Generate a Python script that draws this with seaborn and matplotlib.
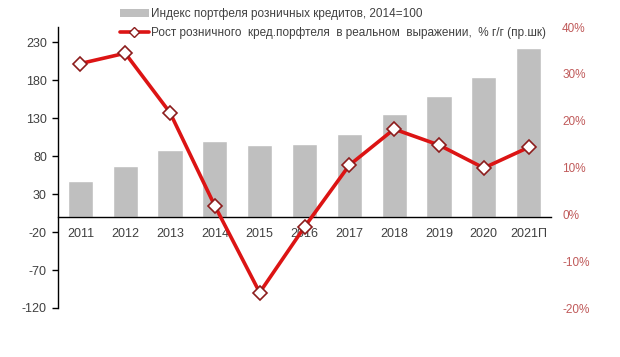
import numpy as np
import pandas as pd
import matplotlib
matplotlib.use("Agg")
import matplotlib.pyplot as plt
from matplotlib.patches import Patch
from matplotlib.lines import Line2D
from matplotlib.ticker import FixedLocator
import seaborn as sns

# data
years = ["2011", "2012", "2013", "2014", "2015", "2016", "2017", "2018", "2019", "2020", "2021П"]
index_2014 = [47, 67, 88, 100, 94, 96, 109, 135, 159, 184, 222]      # left axis, bars
growth_pct = [32.2, 34.4, 21.7, 1.8, -16.7, -2.7, 10.5, 18.2, 14.8, 9.9, 14.3]  # right axis, %

left_ticks = [-120, -70, -20, 30, 80, 130, 180, 230]
right_ticks = [-20, -10, 0, 10, 20, 30, 40]

bar_label = "Индекс портфеля розничных кредитов, 2014=100"
line_label = "Рост розничного  кред.порфтеля  в реальном  выражении,  % г/г (пр.шк)"

BAR_C = "#bfbfbf"
LINE_C = "#dc1414"
EDGE_C = "#8c1c1c"
TXT_C = "#404040"
RTXT_C = "#c05a5a"

sns.set_theme(style="white")
plt.rcParams["font.family"] = ["Liberation Sans", "DejaVu Sans"]
plt.rcParams["axes.unicode_minus"] = False

df = pd.DataFrame({"year": years, "index": index_2014, "growth": growth_pct})

fig = plt.figure(figsize=(6.2, 3.57), dpi=100)
ax = fig.add_axes([58 / 620, 1 - 308 / 357, (551 - 58) / 620, (308 - 27) / 357])

sns.barplot(data=df, x="year", y="index", color=BAR_C, width=0.56,
            saturation=1, ax=ax, zorder=2)
ax.set_ylim(-120, 250)
ax.set_xlim(-0.5, len(years) - 0.5)
ax.set_yticks(left_ticks)
ax.set_xlabel("")
ax.set_ylabel("")

for s in ["top", "right"]:
    ax.spines[s].set_visible(False)
ax.spines["bottom"].set_position(("data", 0))
ax.spines["left"].set_color("black")
ax.spines["bottom"].set_color("black")
ax.spines["left"].set_linewidth(1.0)
ax.spines["bottom"].set_linewidth(1.0)

# category boundary ticks on the zero line
ax.xaxis.set_minor_locator(FixedLocator(np.arange(-0.5, len(years), 1.0)))
ax.tick_params(axis="x", which="major", length=0, pad=8, labelsize=9, labelcolor=TXT_C)
ax.tick_params(axis="x", which="minor", length=4, width=1, direction="out", color="black")
ax.tick_params(axis="y", length=4, width=1, direction="out", color="black",
               pad=4, labelsize=9, labelcolor=TXT_C, left=True)

ax2 = ax.twinx()
sns.pointplot(data=df, x="year", y="growth", ax=ax2, color=LINE_C, markers="D",
              errorbar=None, linewidth=2.6, markersize=7,
              markerfacecolor="white", markeredgecolor=EDGE_C, markeredgewidth=1.2)
ax2.set_ylim(-20, 40)
ax2.set_xlim(-0.5, len(years) - 0.5)
ax2.set_yticks(right_ticks)
ax2.set_yticklabels([f"{v}%" for v in right_ticks])
ax2.set_xlabel("")
ax2.set_ylabel("")
for s in ["top", "right", "left", "bottom"]:
    ax2.spines[s].set_visible(False)
ax2.tick_params(axis="y", length=0, pad=8, labelsize=8.5, labelcolor=RTXT_C)
ax2.grid(False)
ax.grid(False)

handles = [
    Patch(facecolor=BAR_C, edgecolor="none"),
    Line2D([], [], color=LINE_C, linewidth=2.6, marker="D", markersize=5,
           markerfacecolor="white", markeredgecolor=EDGE_C),
]
fig.legend(handles, [bar_label, line_label], loc="upper left",
           bbox_to_anchor=(112 / 620, 1 - 0 / 357), frameon=False,
           fontsize=8.5, handlelength=2.4, handleheight=0.6, handletextpad=0.2,
           labelspacing=0.55, borderpad=0.2, labelcolor=TXT_C)

fig.savefig("out.png", dpi=100)
